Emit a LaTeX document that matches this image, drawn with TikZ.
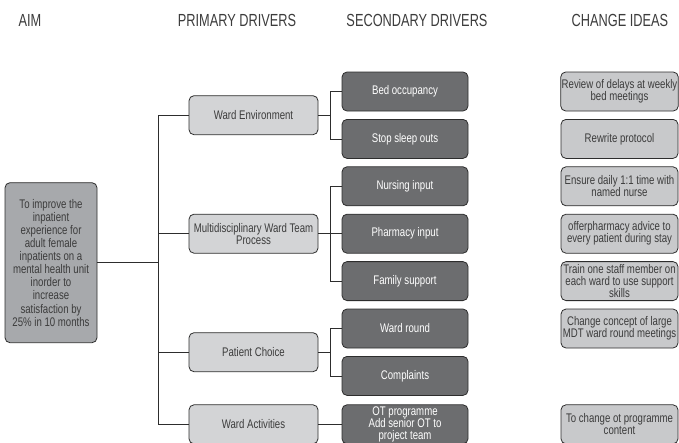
\documentclass[tikz,border=0pt]{standalone}
\usepackage{fontspec}
\setmainfont{Liberation Sans}[FakeStretch=0.77]
\newfontfamily\headfont{Liberation Sans}[FakeStretch=0.73]
\definecolor{primfill}{RGB}{211,212,214}
\definecolor{ideafill}{RGB}{200,201,203}
\definecolor{secfill}{RGB}{108,109,111}
\definecolor{aimfill}{RGB}{167,169,172}
\definecolor{edge}{RGB}{45,45,45}
\definecolor{txt}{RGB}{60,60,60}
\begin{document}
\begin{tikzpicture}[x=1pt,y=-1pt,
  boxbase/.style={draw=edge, rounded corners=5pt, line width=0.8pt, align=center,
    inner sep=1pt, minimum height=39pt, font=\fontsize{12.5}{12}\selectfont},
  primbox/.style={boxbase, fill=primfill, text=txt, minimum width=129pt},
  secbox/.style={boxbase, fill=secfill, text=white, minimum width=126pt},
  ideabox/.style={boxbase, fill=ideafill, text=txt, minimum width=117pt},
  aimbox/.style={boxbase, fill=aimfill, text=txt, minimum width=92pt,
    minimum height=160pt, font=\fontsize{12.5}{13.1}\selectfont},
  header/.style={anchor=base, text=txt, font=\headfont\fontsize{17.5}{17.5}\selectfont},
  link/.style={draw=edge, line width=0.8pt}]
\clip (0,0) rectangle (679,442);

% column headings
\node[header] (hAim)  at (30,26)  {AIM};
\node[header] (hPrim) at (237,26) {PRIMARY DRIVERS};
\node[header] (hSec)  at (417,26) {SECONDARY DRIVERS};
\node[header] (hIdea) at (620,26) {CHANGE IDEAS};

% aim
\node[aimbox] (aim) at (51,262.7) {To improve the\\inpatient\\experience for\\adult female\\inpatients on a\\mental health unit\\inorder to\\increase\\satisfaction by\\25\% in 10 months};

% primary drivers
\node[primbox] (p1) at (253.5,115.2) {Ward Environment};
\node[primbox] (p2) at (253.5,233.7) {Multidisciplinary Ward Team\\Process};
\node[primbox] (p3) at (253.5,352.2) {Patient Choice};
\node[primbox] (p4) at (253.5,424.3) {Ward Activities};

% secondary drivers
\node[secbox] (s1) at (405,91.5)  {Bed occupancy};
\node[secbox] (s2) at (405,138.9) {Stop sleep outs};
\node[secbox] (s3) at (405,186.3) {Nursing input};
\node[secbox] (s4) at (405,233.7) {Pharmacy input};
\node[secbox] (s5) at (405,281.1) {Family support};
\node[secbox] (s6) at (405,328.5) {Ward round};
\node[secbox] (s7) at (405,375.9) {Complaints};
\node[secbox, font=\fontsize{12.5}{11.5}\selectfont] (s8) at (405,424.3) {OT programme\\Add senior OT to\\project team};

% change ideas
\node[ideabox] (c1) at (619.5,91.5)  {Review of delays at weekly\\bed meetings};
\node[ideabox] (c2) at (619.5,138.9) {Rewrite protocol};
\node[ideabox] (c3) at (619.5,186.3) {Ensure daily 1:1 time with\\named nurse};
\node[ideabox] (c4) at (619.5,233.7) {offerpharmacy advice to\\every patient during stay};
\node[ideabox] (c5) at (619.5,281.1) {Train one staff member on\\each ward to use support\\skills};
\node[ideabox] (c6) at (619.5,328.5) {Change concept of large\\MDT ward round meetings};
\node[ideabox] (c8) at (619.5,424.3) {To change ot programme\\content};

% connector rails
\coordinate (tr) at (158,0);
\coordinate (br) at (330,0);

% aim to primary drivers
\draw[link] (aim.east) -- (aim.east -| tr);
\draw[link] (p1.west -| tr) -- (p4.west -| tr);
\foreach \p in {p1,p2,p3,p4} \draw[link] (\p.west -| tr) -- (\p.west);

% primary to secondary drivers
\draw[link] (p1.east) -- (p1.east -| br);
\draw[link] (s1.west -| br) -- (s2.west -| br);
\draw[link] (p2.east) -- (s4.west);
\draw[link] (s3.west -| br) -- (s5.west -| br);
\draw[link] (p3.east) -- (p3.east -| br);
\draw[link] (s6.west -| br) -- (s7.west -| br);
\draw[link] (p4.east) -- (s8.west);
\foreach \s in {s1,s2,s3,s5,s6,s7} \draw[link] (\s.west -| br) -- (\s.west);
\end{tikzpicture}
\end{document}
